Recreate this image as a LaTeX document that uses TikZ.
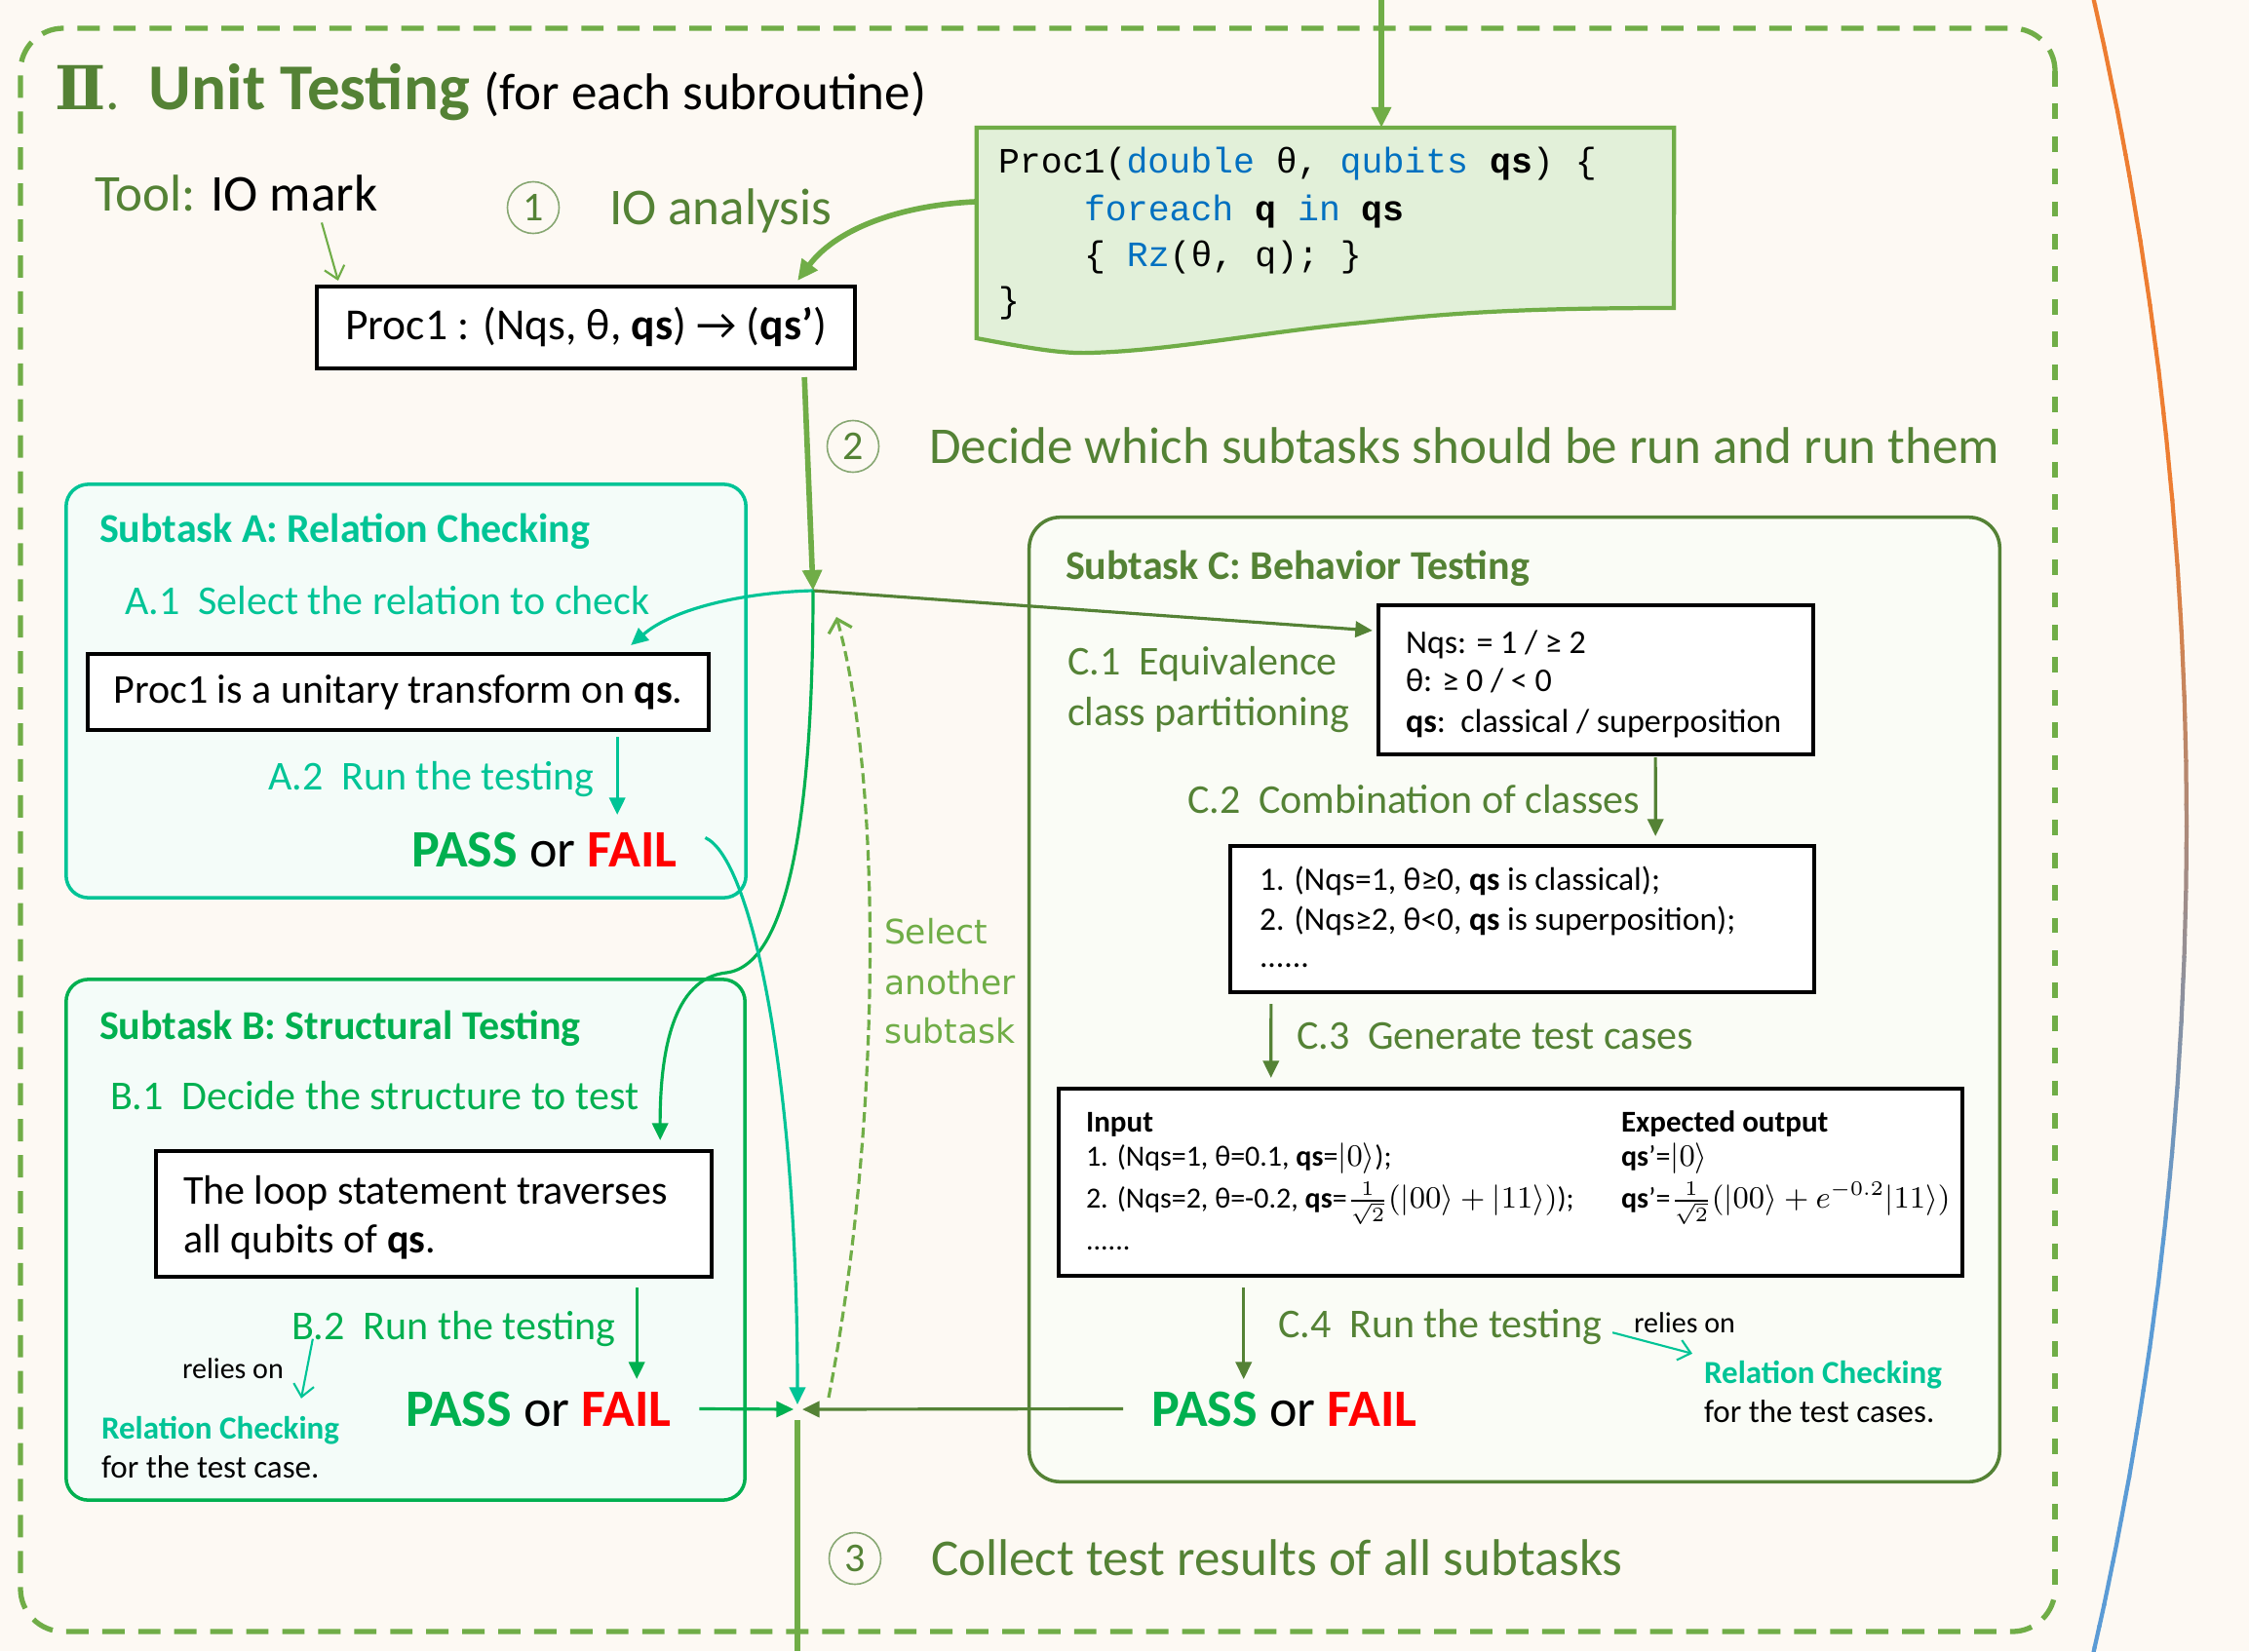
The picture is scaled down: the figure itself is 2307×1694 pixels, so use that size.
\documentclass[tikz,border=0pt]{standalone}
\usepackage{fontspec}
\setmainfont{Carlito}
\newfontfamily\codefont{Liberation Mono}
\newfontfamily\numeralfont{DejaVu Serif}
\newfontfamily\wideface{DejaVu Sans}
\usetikzlibrary{arrows.meta,calc}

\definecolor{lgreen}{RGB}{112,173,71}
\definecolor{dgreen}{RGB}{84,130,53}
\definecolor{bgreen}{RGB}{0,176,80}
\definecolor{tealc}{RGB}{0,196,150}
\definecolor{codeblue}{RGB}{0,112,192}
\definecolor{codefill}{RGB}{226,240,217}
\definecolor{bgcream}{RGB}{253,249,243}
\definecolor{mintfill}{RGB}{244,252,249}
\definecolor{cfill}{RGB}{250,252,246}
\definecolor{orangec}{RGB}{237,125,49}
\definecolor{bluec}{RGB}{91,155,213}
\definecolor{failred}{RGB}{255,0,0}

% font size given in picture units (1 unit = 0.01cm)
\newcommand{\fpx}[1]{\fontsize{\fpeval{#1*0.28453}pt}{\fpeval{#1*0.34}pt}\selectfont}
\newcommand{\passfail}{{\bfseries\color{bgreen}PASS} or {\bfseries\color{failred}FAIL}}

\tikzset{
  every node/.style={inner sep=0pt, outer sep=0pt},
  txt/.style={anchor=base west},
  steptxt/.style={txt, text=dgreen, font=\fpx{53}},
  ttlA/.style={txt, text=tealc, font=\bfseries\fpx{42}},
  ttlB/.style={txt, text=bgreen, font=\bfseries\fpx{42}},
  ttlC/.style={txt, text=dgreen, font=\bfseries\fpx{42}},
  body/.style={txt, font=\fpx{42}},
  small/.style={txt, font=\fpx{34}},
  tiny/.style={txt, font=\fpx{30}},
  pf/.style={txt, font=\fpx{54}},
  codeline/.style={txt, font=\codefont\fpx{36.5}},
  blackbox/.style={rectangle, draw=black, line width=1.15pt, fill=white},
  taskbox/.style={rectangle, rounded corners=6.5pt, line width=1.0pt},
  circnum/.style={circle, draw=dgreen!70, line width=0.45pt, minimum size=0.53cm, text=dgreen, font=\fpx{42}},
  bigarrow/.style={draw=lgreen, line width=1.6pt, -{Triangle[length=6pt,width=5.5pt]}},
  conn/.style={line width=0.9pt, -{Triangle[length=5pt,width=4.6pt]}},
  openarr/.style={line width=0.6pt, -{Straight Barb[length=3.5pt,width=6pt]}},
}

\begin{document}
\begin{tikzpicture}[x=0.01cm, y=-0.01cm]
\useasboundingbox (0,0) rectangle (2307,1694);
\fill[bgcream] (0,0) rectangle (2307,1694);

% colour-graded arc at the right edge
\foreach \i in {0,...,79}{
  \pgfmathsetmacro\a{-13.4+\i*0.335}
  \pgfmathsetmacro\b{\a+0.36}
  \pgfmathtruncatemacro\pc{max(0,min(100,(\i/79-0.3)/0.45*100))}
  \draw[line width=1.2pt, color=bluec!\pc!orangec]
    ([shift={(-1580,847)}]\a:3823) -- ([shift={(-1580,847)}]\b:3823);
}

% dashed frame of the unit-testing stage
\draw[lgreen, line width=1.5pt, dash pattern=on 6.5pt off 4pt, rounded corners=12.5pt]
  (2108,73) -- (2108,29) -- (21,29) -- (21,1674) -- (2108,1674) -- (2108,1630);
\draw[lgreen, line width=1.5pt, dash pattern=on 4.5pt off 5pt] (2108,73) -- (2108,1630);

% title
\node[txt, text=dgreen] (title) at (56,113)
  {{\numeralfont\bfseries\fpx{62}Ⅱ}{\fpx{58}.}\hspace{0.3cm}{\bfseries\fpx{67}Unit Testing}\hspace{0.15cm}{\fpx{53}\color{black}(for each subroutine)}};

% step 1: IO analysis
\node[steptxt] (tool) at (97,216) {Tool: \textcolor{black}{IO mark}};
\node[circnum] (n1) at (547,213) {1};
\node[steptxt] (io) at (625,230) {IO analysis};
\node[blackbox, minimum width=5.52cm, minimum height=0.84cm, font=\fpx{45.5}] (proc) at (601,336)
  {Proc1 : (Nqs, θ, \textbf{qs}) → (\textbf{qs’})};

% source code of the subroutine
\node[minimum width=7.15cm, minimum height=2.16cm] (code) at (1359.5,239) {};
\draw[lgreen, line width=1.2pt, fill=codefill]
  (code.north west) -- (code.north east) -- (1717,316)
  .. controls (1550,316) and (1480,322) .. (1398,331)
  .. controls (1300,340) and (1200,360) .. (1118,362)
  .. controls (1090,363) and (1060,358) .. (code.south west) -- cycle;
\node[codeline] (cl1) at (1024,177) {Proc1(\textcolor{codeblue}{double} θ, \textcolor{codeblue}{qubits} \textbf{qs}) \{};
\node[codeline] (cl2) at (1112,226) {\textcolor{codeblue}{foreach} \textbf{q} \textcolor{codeblue}{in} \textbf{qs}};
\node[codeline] (cl3) at (1112,273) {\{ \textcolor{codeblue}{Rz}(θ, q); \}};
\node[codeline] (cl4) at (1024,320) {\}};

\coordinate (topin) at (1417,0);
\draw[bigarrow] (topin) -- (topin |- code.north);
\draw[bigarrow] ($(code.north west)+(0,76)$) .. controls (930,210) and (860,232) .. ($(proc.north east)+(-59,-6)$);
\draw[openarr, draw=lgreen] ($(tool.south west)+(233,12)$) -- ($(proc.north west)+(22,-6)$);

% step 2
\node[circnum] (n2) at (875,458) {2};
\node[steptxt] (step2) at (953,475) {Decide which subtasks should be run and run them};
\coordinate (J) at (834,606);
\draw[bigarrow] ($(proc.south east)+(-52,9)$) -- (J);

% subtask A
\node[taskbox, draw=tealc, fill=mintfill, minimum width=6.97cm, minimum height=4.24cm] (Abox) at (416.5,709) {};
\node[ttlA] (Attl) at (102,556) {Subtask A: Relation Checking};
\node[body, text=tealc] (A1) at (128,630) {A.1\ \ Select the relation to check};
\node[blackbox, minimum width=6.37cm, minimum height=0.78cm, font=\fpx{42}] (Ain) at (408.5,710)
  {Proc1 is a unitary transform on \textbf{qs}.};
\node[body, text=tealc] (A2) at (275,810) {A.2\ \ Run the testing};
\node[pf] (Apf) at (422,889) {\passfail};
\draw[conn, draw=tealc] ($(Ain.south east)+(-94,7)$) -- ++(0,80);

% subtask B
\node[taskbox, draw=bgreen, fill=mintfill, minimum width=6.96cm, minimum height=5.34cm] (Bbox) at (416,1272) {};
\node[ttlB] (Bttl) at (102,1066) {Subtask B: Structural Testing};
\node[body, text=bgreen] (B1) at (113,1138) {B.1\ \ Decide the structure to test};
\node[blackbox, minimum width=5.70cm, minimum height=1.29cm] (Bin) at (445,1245.5) {};
\node[body] (Bl1) at (188,1235) {The loop statement traverses};
\node[body] (Bl2) at (188,1285) {all qubits of \textbf{qs}.};
\node[body, text=bgreen] (B2) at (299,1374) {B.2\ \ Run the testing};
\node[tiny] (Brel) at (187,1414) {relies on};
\node[small, text=tealc, font=\bfseries\fpx{33}] (Brc) at (104,1476) {Relation Checking};
\node[small, font=\fpx{33}] (Bfor) at (104,1516) {for the test case.};
\node[pf] (Bpf) at (416,1463) {\passfail};
\draw[conn, draw=bgreen] ($(Bin.south east)+(-77,11)$) -- ++(0,94);
\draw[openarr, draw=tealc] ($(Brel.east)+(30,-30)$) -- ($(Brc.north west)+(205,-18)$);

% subtask C
\node[taskbox, draw=dgreen, fill=cfill, minimum width=9.95cm, minimum height=9.89cm, rounded corners=9pt] (Cbox) at (1553.5,1025.5) {};
\node[ttlC] (Cttl) at (1093,594) {Subtask C: Behavior Testing};
\node[body, text=dgreen] (C1a) at (1095,692) {C.1\ \ Equivalence};
\node[body, text=dgreen] (C1b) at (1095,744) {class partitioning};
\node[blackbox, minimum width=4.46cm, minimum height=1.53cm] (box1) at (1637,697.5) {};
\node[small] (b1l1) at (1442,670) {Nqs: = 1 / ≥ 2};
\node[small] (b1l2) at (1442,709) {θ: ≥ 0 / < 0};
\node[small] (b1l3) at (1442,751) {\textbf{qs}:\ \ classical / superposition};
\node[body, text=dgreen] (C2) at (1218,834) {C.2\ \ Combination of classes};
\node[blackbox, minimum width=5.99cm, minimum height=1.50cm] (box2) at (1561.5,943) {};
\node[small, font=\fpx{33.5}] (b2l1) at (1292,913) {1. (Nqs=1, θ≥0, \textbf{qs} is classical);};
\node[small, font=\fpx{33.5}] (b2l2) at (1292,954) {2. (Nqs≥2, θ<0, \textbf{qs} is superposition);};
\node[small, font=\fpx{33.5}] (b2l3) at (1292,992) {......};
\node[body, text=dgreen] (C3) at (1330,1076) {C.3\ \ Generate test cases};
\node[blackbox, minimum width=9.27cm, minimum height=1.92cm] (box3) at (1549.5,1213) {};
% test cases: inputs and expected outputs
\node[tiny] (incol) at (1114,1161) {\begin{tabular}[t]{@{}l@{}}
  {\bfseries\fpx{31}Input}\\
  1. (Nqs=1, θ=0.1, \textbf{qs}=\smash{$|0\rangle$});\\[0.07cm]
  2. (Nqs=2, θ=-0.2, \textbf{qs}=\smash{$\frac{1}{\sqrt{2}}(|00\rangle+|11\rangle)$});\\[0.07cm]
  ......
\end{tabular}};
\node[tiny] (excol) at (1663,1161) {\begin{tabular}[t]{@{}l@{}}
  {\bfseries\fpx{31}Expected output}\\
  \textbf{qs}’=\smash{$|0\rangle$}\\[0.07cm]
  \textbf{qs}’=\smash{$\frac{1}{\sqrt{2}}(|00\rangle+e^{-0.2}|11\rangle)$}
\end{tabular}};
\node[body, text=dgreen] (C4) at (1311,1372) {C.4\ \ Run the testing};
\node[tiny] (Crel) at (1676,1367) {relies on};
\node[small, text=tealc, font=\bfseries\fpx{33}] (Crc) at (1748,1419) {Relation Checking};
\node[small, font=\fpx{33}] (Cfor) at (1748,1459) {for the test cases.};
\node[pf] (Cpf) at (1181,1463) {\passfail};
\draw[conn, draw=dgreen] ($(box1.south east)+(-162,3)$) -- ($(box2.north east)+(-163,-10)$);
\draw[conn, draw=dgreen] ($(box2.south west)+(42,12)$) -- ($(box3.north west)+(218,-11)$);
\draw[conn, draw=dgreen] ($(box3.south west)+(190,12)$) -- ++(0,94);
\draw[openarr, draw=tealc] ($(C4.south east)+(11,-12)$) -- ($(Crc.north west)+(-12,-7)$);

% routing from the decision point to the subtasks
\draw[conn, draw=dgreen] (J) -- ($(box1.north west)+(-6,26)$);
\draw[conn, draw=tealc] (J) .. controls (760,608) and (690,625) .. ($(Ain.north east)+(-80,-9)$);
\draw[conn, draw=bgreen] (J) .. controls (834,820) and (812,990) .. (745,998)
  .. controls (690,1004) and (677,1080) .. ($(Bin.north east)+(-53,-11)$);

% collecting the results
\coordinate (K) at (818,1446);
\draw[conn, draw=tealc] ($(Apf.east)+(29,-12)$) .. controls (770,880) and (818,1100) .. ($(K)+(0,-5)$);
\draw[conn, draw=bgreen] ($(Bpf.east)+(29,0)$) -- ($(K)+(-4,0)$);
\draw[conn, draw=dgreen] ($(Cpf.west)+(-29,0)$) -- ($(K)+(5,0)$);
\draw[draw=lgreen, line width=1.6pt] ($(K)+(0,11)$) -- (K |- 0,1694);

% loop back to pick another subtask
\draw[draw=lgreen, line width=0.9pt, dash pattern=on 3pt off 1.5pt, -{Straight Barb[length=3.5pt,width=7pt]}]
  ($(K)+(32,-12)$) .. controls (905,1150) and (905,800) .. ($(J)+(24,27)$);
\node[txt, text=lgreen, font=\wideface\fpx{34.5}] (sel1) at (907,968) {Select};
\node[txt, text=lgreen, font=\wideface\fpx{34.5}] (sel2) at (907,1020) {another};
\node[txt, text=lgreen, font=\wideface\fpx{34.5}] (sel3) at (907,1070) {subtask};

% step 3
\node[circnum] (n3) at (877,1599) {3};
\node[steptxt] (step3) at (955,1616) {Collect test results of all subtasks};
\end{tikzpicture}
\end{document}
